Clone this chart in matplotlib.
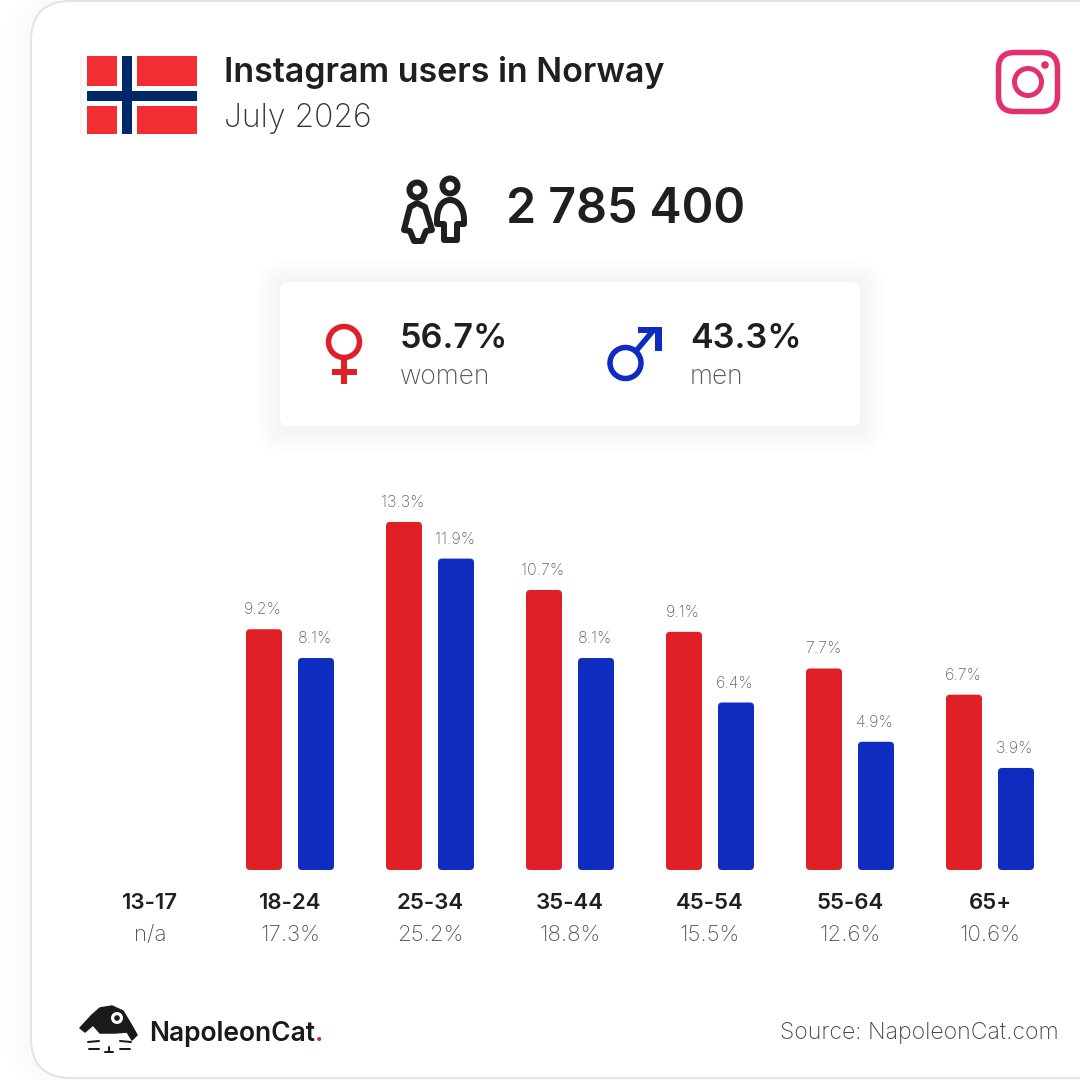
import matplotlib
matplotlib.use("Agg")
import matplotlib.pyplot as plt
from matplotlib.patches import FancyBboxPatch, Circle, Rectangle, PathPatch, Polygon
from matplotlib.path import Path

ages = ["13-17", "18-24", "25-34", "35-44", "45-54", "55-64", "65+"]
age_totals = ["n/a", "17.3%", "25.2%", "18.8%", "15.5%", "12.6%", "10.6%"]
women = [None, 9.2, 13.3, 10.7, 9.1, 7.7, 6.7]
men = [None, 8.1, 11.9, 8.1, 6.4, 4.9, 3.9]
total_users = "2 785 400"
women_share = "56.7%"
men_share = "43.3%"

RED = "#df2027"
BLUE = "#0f2cc0"
DARK = "#1f1f1f"
PINK = "#e3306e"
FONT = "Inter"
LIGHT = 200
BOLD = 600
PX = 0.72  # one pixel in points at dpi 100

plt.rcParams["font.family"] = FONT

fig = plt.figure(figsize=(10.8, 10.8), dpi=100, facecolor="white")

# whole picture in pixels, for the card and the icons
bg = fig.add_axes([0, 0, 1, 1])
bg.set_xlim(0, 1080)
bg.set_ylim(1080, 0)
bg.axis("off")


def rounded(x0, y0, x1, y1, r, **kw):
    p = FancyBboxPatch((x0 + r, y0 + r), x1 - x0 - 2 * r, y1 - y0 - 2 * r,
                       boxstyle="round,pad=%f,rounding_size=%f" % (r, r), **kw)
    bg.add_patch(p)
    return p


def stroke(points, color=DARK, lw=6, closed=False, **kw):
    codes = [Path.MOVETO] + [Path.LINETO] * (len(points) - 1)
    if closed:
        points = points + [points[0]]
        codes = codes + [Path.CLOSEPOLY]
    bg.add_patch(PathPatch(Path(points, codes), fill=False, edgecolor=color,
                           lw=lw * PX, joinstyle="round", capstyle="round", **kw))


def ring(x, y, r, lw, color):
    bg.add_patch(Circle((x, y), r, fill=False, edgecolor=color, lw=lw * PX))


def shade(level):
    g = 255 - level
    return "#%02x%02x%02x" % (g, g, g)


# card with its faint shadow on the left
for i in range(5, 0, -1):
    rounded(31 - i * 5, 1 - i, 1200, 1078 + i, 40 + i, fc=shade(6 - i), ec="none")
rounded(31, 1, 1200, 1078, 40, fc="white", ec="#e4e4e4", lw=2 * PX)

# flag
bg.add_patch(Rectangle((80, 55), 117, 80, fc="white", ec="none"))
bg.plot([80.5, 80.5], [55, 134], color="#f1f1f1", lw=1.5 * PX)
bg.add_patch(Rectangle((87, 56), 110, 78, fc="#f32e33", ec="none"))
bg.add_patch(Rectangle((117, 56), 20, 78, fc="white", ec="none"))
bg.add_patch(Rectangle((87, 86), 110, 20, fc="white", ec="none"))
bg.add_patch(Rectangle((122, 56), 10, 78, fc="#00286b", ec="none"))
bg.add_patch(Rectangle((87, 91), 110, 10, fc="#00286b", ec="none"))

bg.text(224, 82, "Instagram users in Norway", fontsize=24.5, fontweight=BOLD, color=DARK)
bg.text(224, 127, "July 2026", fontsize=23, fontweight=LIGHT, color="#333333")

# instagram logo
rounded(998.5, 52.5, 1057.5, 111.5, 16, fc="none", ec=PINK, lw=5.5 * PX)
ring(1028, 82, 13.5, 5, PINK)
bg.add_patch(Circle((1045, 65), 3.8, fc=PINK, ec="none"))

# people icon
ring(417, 190, 7.5, 6, DARK)
ring(450, 186, 7.5, 6, DARK)
stroke([(417, 203), (410, 207), (404, 230), (410, 231), (414, 241), (422, 241),
        (426, 231), (432, 230), (425, 207)], closed=True)
man = Path([(437, 224), (437, 220), (437, 208), (442, 200), (450, 200), (458, 200), (464, 208),
            (464, 220), (464, 224), (457, 224), (457, 240), (444, 240), (444, 224), (437, 224)],
           [Path.MOVETO, Path.LINETO, Path.CURVE4, Path.CURVE4, Path.CURVE4, Path.CURVE4,
            Path.CURVE4, Path.CURVE4, Path.LINETO, Path.LINETO, Path.LINETO, Path.LINETO,
            Path.LINETO, Path.CLOSEPOLY])
bg.add_patch(PathPatch(man, fill=False, edgecolor=DARK, lw=6 * PX, joinstyle="round"))
bg.text(506, 205, total_users, fontsize=34.8, fontweight=BOLD, color=DARK, va="center_baseline")

# gender panel with soft shadow
for i in range(10, 0, -1):
    rounded(280 - i * 2.4, 284 - i * 2.4, 860 + i * 2.4, 430 + i * 2.4, 8 + i * 2.4,
            fc=shade(11 - i), ec="none")
rounded(280, 282, 860, 426, 8, fc="white", ec="none")

ring(344, 342, 15.5, 5.5, RED)
bg.add_patch(Rectangle((341, 358), 6, 26, fc=RED, ec="none"))
bg.add_patch(Rectangle((332, 369), 25, 6, fc=RED, ec="none"))
ring(625.5, 363, 15.5, 5.5, BLUE)
stroke([(636, 351), (652, 332)], color=BLUE, lw=5.5)
bg.add_patch(Polygon([(638, 327), (662, 327), (662, 351), (655, 351), (655, 333), (638, 333)],
                     fc=BLUE, ec="none"))

bg.text(400, 348, women_share, fontsize=24.6, fontweight=BOLD, color=DARK)
bg.text(400, 384, "women", fontsize=19, fontweight=LIGHT, color="#555555")
bg.text(690, 348, men_share, fontsize=24.6, fontweight=BOLD, color=DARK)
bg.text(690, 384, "men", fontsize=19, fontweight=LIGHT, color="#555555")

# logo
bg.add_patch(Polygon([(80, 1028), (92, 1015), (100, 1008), (112, 1006), (123, 1011), (132, 1026),
                      (137, 1035), (132, 1040), (127, 1032), (115, 1033), (100, 1033),
                      (93, 1025), (85, 1032)], fc="#1a1a1a", ec="#1a1a1a", lw=1.5 * PX,
                     joinstyle="round"))
bg.add_patch(Circle((117, 1018), 6, fc="white", ec="none"))
bg.add_patch(Circle((117, 1018), 2.8, fc="#1a1a1a", ec="none"))
for seg in [[(88, 1042), (99, 1041)], [(89, 1049), (99, 1049)], [(120, 1041), (131, 1042)],
            [(120, 1049), (130, 1049)], [(109, 1047), (109, 1052)], [(105, 1052), (113, 1052)]]:
    stroke(seg, color="#1a1a1a", lw=2)
bg.text(149, 1041, "NapoleonCat", fontsize=19, fontweight=BOLD, color="#1a1a1a")
bg.text(315, 1041, ".", fontsize=19, fontweight=BOLD, color=RED)
bg.text(1059, 1031, "Source: NapoleonCat.com", fontsize=16.6, fontweight=LIGHT,
        color="#444444", ha="right", va="center_baseline")

# bars: 26.17 px per percent, 140 px per age group
ax = fig.add_axes([80 / 1080, 210 / 1080, 980 / 1080, 14 * 26.17 / 1080])
ax.set_xlim(-0.5, 6.5)
ax.set_ylim(0, 14)
ax.axis("off")
bar_w = 36 / 140
offset = 26 / 140
aspect = 140 / 26.17
for i in range(len(ages)):
    for vals, col, sign in [(women, RED, -1), (men, BLUE, 1)]:
        v = vals[i]
        if v is None:
            continue
        x = i + sign * offset
        r = 4 / 140
        ax.add_patch(FancyBboxPatch((x - bar_w / 2 + r, r * aspect), bar_w - 2 * r, v - 2 * r * aspect,
                                    boxstyle="round,pad=%f,rounding_size=%f" % (r, r),
                                    mutation_aspect=aspect, fc=col, ec="none"))
        ax.annotate("%.1f%%" % v, (x, v), xytext=(-1 * PX, 19.5 * PX), textcoords="offset points",
                    ha="center", va="center", fontsize=11.5, fontweight=LIGHT,
                    color="#666666", annotation_clip=False)
    ax.annotate(ages[i], (i, 0), xytext=(0, -33 * PX), textcoords="offset points", ha="center",
                va="center", fontsize=16, fontweight=BOLD, color=DARK, annotation_clip=False)
    ax.annotate(age_totals[i], (i, 0), xytext=(0, -65 * PX), textcoords="offset points", ha="center",
                va="center", fontsize=16, fontweight=LIGHT, color="#555555", annotation_clip=False)

fig.savefig("out.png", dpi=100)
